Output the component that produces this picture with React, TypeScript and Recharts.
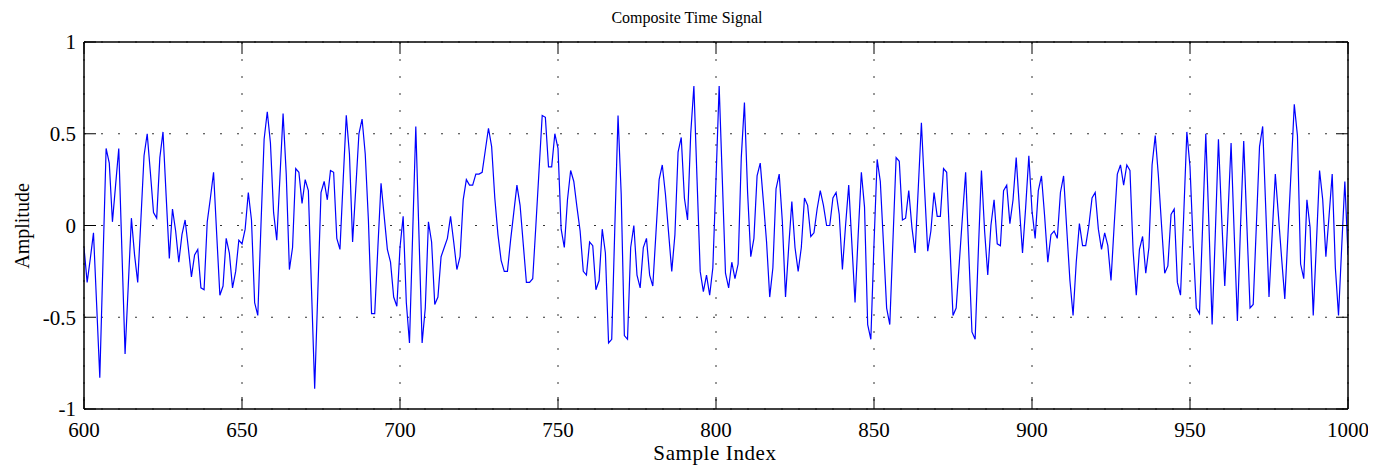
import React from 'react';
import { LineChart, Line, XAxis, YAxis, CartesianGrid } from 'recharts';

const START_INDEX = 600;

// Amplitude, one value per sample index 600..1000
const amplitude: number[] = [
  -0.12, -0.31, -0.18, -0.04, -0.43, -0.83, -0.2, 0.42, 0.34, 0.02, // 600
  0.22, 0.42, -0.14, -0.7, -0.33, 0.04, -0.16, -0.31, 0.03, 0.38, // 610
  0.5, 0.29, 0.07, 0.04, 0.37, 0.51, 0.16, -0.18, 0.09, -0.03, // 620
  -0.2, -0.05, 0.03, -0.12, -0.28, -0.16, -0.13, -0.34, -0.35, 0.02, // 630
  0.15, 0.29, -0.05, -0.38, -0.33, -0.07, -0.15, -0.34, -0.25, -0.08, // 640
  -0.1, -0.02, 0.18, 0.03, -0.42, -0.49, 0.0, 0.47, 0.62, 0.45, // 650
  0.07, -0.08, 0.26, 0.61, 0.28, -0.24, -0.12, 0.31, 0.29, 0.12, // 660
  0.25, 0.19, -0.35, -0.89, -0.36, 0.18, 0.24, 0.14, 0.3, 0.29, // 670
  -0.07, -0.13, 0.24, 0.6, 0.39, -0.09, 0.2, 0.5, 0.58, 0.39, // 680
  0.03, -0.48, -0.48, -0.12, 0.23, 0.05, -0.13, -0.2, -0.39, -0.44, // 690
  -0.12, 0.05, -0.42, -0.64, -0.05, 0.54, -0.05, -0.64, -0.45, 0.02, // 700
  -0.09, -0.43, -0.39, -0.17, -0.12, -0.07, 0.05, -0.09, -0.24, -0.17, // 710
  0.14, 0.25, 0.22, 0.22, 0.28, 0.28, 0.29, 0.41, 0.53, 0.43, // 720
  0.15, -0.05, -0.19, -0.25, -0.25, -0.08, 0.07, 0.22, 0.11, -0.1, // 730
  -0.31, -0.31, -0.29, 0.0, 0.3, 0.6, 0.59, 0.32, 0.32, 0.5, // 740
  0.42, -0.02, -0.12, 0.14, 0.3, 0.24, 0.1, -0.03, -0.25, -0.27, // 750
  -0.09, -0.11, -0.35, -0.3, -0.02, -0.15, -0.64, -0.62, 0.0, 0.6, // 760
  0.17, -0.6, -0.62, -0.12, 0.0, -0.27, -0.34, -0.12, -0.07, -0.27, // 770
  -0.33, -0.04, 0.25, 0.33, 0.17, -0.04, -0.25, -0.05, 0.4, 0.48, // 780
  0.15, 0.03, 0.5, 0.76, 0.25, -0.25, -0.36, -0.27, -0.38, -0.23, // 790
  0.25, 0.76, 0.25, -0.26, -0.34, -0.2, -0.29, -0.21, 0.37, 0.67, // 800
  0.18, -0.17, -0.07, 0.27, 0.34, 0.13, -0.09, -0.39, -0.23, 0.2, // 810
  0.28, 0.02, -0.39, -0.12, 0.13, -0.12, -0.25, -0.12, 0.15, 0.11, // 820
  -0.06, -0.04, 0.09, 0.19, 0.11, 0.0, 0.0, 0.15, 0.18, 0.06, // 830
  -0.24, 0.0, 0.22, -0.1, -0.42, -0.05, 0.29, 0.1, -0.54, -0.62, // 840
  -0.1, 0.36, 0.24, -0.1, -0.45, -0.54, -0.08, 0.37, 0.35, 0.03, // 850
  0.04, 0.19, -0.01, -0.15, 0.2, 0.56, 0.2, -0.14, -0.03, 0.18, // 860
  0.05, 0.05, 0.31, 0.29, -0.1, -0.49, -0.45, -0.2, 0.05, 0.29, // 870
  -0.15, -0.58, -0.62, -0.15, 0.3, -0.03, -0.27, 0.0, 0.14, -0.1, // 880
  -0.11, 0.19, 0.22, 0.01, 0.14, 0.37, 0.1, -0.15, 0.1, 0.38, // 890
  0.08, -0.07, 0.19, 0.27, 0.05, -0.2, -0.05, -0.03, -0.07, 0.18, // 900
  0.27, -0.02, -0.3, -0.49, -0.2, 0.01, -0.11, -0.11, 0.0, 0.15, // 910
  0.18, -0.02, -0.13, -0.04, -0.11, -0.3, 0.0, 0.28, 0.33, 0.22, // 920
  0.33, 0.3, -0.14, -0.38, -0.13, -0.06, -0.26, -0.12, 0.33, 0.49, // 930
  0.27, 0.0, -0.26, -0.22, 0.06, 0.09, -0.31, -0.38, 0.05, 0.51, // 940
  0.32, -0.1, -0.45, -0.48, 0.0, 0.5, 0.0, -0.54, -0.05, 0.47, // 950
  0.05, -0.33, 0.05, 0.45, -0.05, -0.52, 0.0, 0.46, 0.0, -0.45, // 960
  -0.43, 0.0, 0.43, 0.54, 0.08, -0.39, -0.05, 0.28, 0.05, -0.18, // 970
  -0.4, -0.05, 0.3, 0.66, 0.49, -0.21, -0.29, 0.14, -0.01, -0.49, // 980
  -0.1, 0.3, 0.14, -0.17, 0.05, 0.28, -0.23, -0.49, -0.12, 0.24, // 990
  -0.16, // 1000
];

const xTicks = [600, 650, 700, 750, 800, 850, 900, 950, 1000];
const yTicks = [-1, -0.5, 0, 0.5, 1];
const xDomain = [600, 1000];
const yDomain = [-1, 1];

const titleText = 'Composite Time Signal';
const xLabelText = 'Sample Index';
const yLabelText = 'Amplitude';

const data = amplitude.map((v, i) => ({ index: START_INDEX + i, amplitude: v }));

const FONT = '"Liberation Serif", "Times New Roman", Times, serif';

const NoTick = () => <g />;

export default function App() {
  const W = 1360;
  const H = 461;
  return (
    <div style={{ width: W, height: H }}>
      <LineChart
        width={W}
        height={H}
        data={data}
        margin={{ top: 24, right: 10, bottom: 20, left: 16 }}
      >
        <CartesianGrid stroke="#333" strokeWidth={1} strokeDasharray="2 15" />
        <Line
          type="linear"
          dataKey="amplitude"
          stroke="#0000ff"
          strokeWidth={1.2}
          dot={false}
          activeDot={false}
          isAnimationActive={false}
        />
        <XAxis
          type="number"
          dataKey="index"
          domain={xDomain}
          ticks={xTicks}
          interval={0}
          allowDataOverflow
          height={40}
          tickSize={-12}
          tickMargin={25}
          axisLine={{ stroke: '#000', strokeWidth: 1.5 }}
          tickLine={{ stroke: '#000', strokeWidth: 1 }}
          tick={{ fill: '#000', fontSize: 21, fontFamily: FONT }}
        />
        <XAxis
          xAxisId="top"
          orientation="top"
          type="number"
          dataKey="index"
          domain={xDomain}
          ticks={xTicks}
          interval={0}
          allowDataOverflow
          height={10}
          tickSize={-12}
          axisLine={{ stroke: '#000', strokeWidth: 1.5 }}
          tickLine={{ stroke: '#000', strokeWidth: 1 }}
          tick={NoTick}
        />
        <YAxis
          type="number"
          domain={yDomain}
          ticks={yTicks}
          interval={0}
          allowDataOverflow
          width={60}
          tickSize={-12}
          tickMargin={20}
          axisLine={{ stroke: '#000', strokeWidth: 1.5 }}
          tickLine={{ stroke: '#000', strokeWidth: 1 }}
          tick={{ fill: '#000', fontSize: 21, fontFamily: FONT }}
        />
        <YAxis
          yAxisId="right"
          orientation="right"
          type="number"
          domain={yDomain}
          ticks={yTicks}
          interval={0}
          allowDataOverflow
          width={10}
          tickSize={-12}
          axisLine={{ stroke: '#000', strokeWidth: 1.5 }}
          tickLine={{ stroke: '#000', strokeWidth: 1 }}
          tick={NoTick}
        />
        <text
          x={679}
          y={15}
          textAnchor="middle"
          fontFamily={FONT}
          fontSize={16}
          fill="#000"
        >
          {titleText}
        </text>
        <text
          x={707}
          y={452}
          textAnchor="middle"
          fontFamily={FONT}
          fontSize={21}
          letterSpacing={0.6}
          fill="#000"
        >
          {xLabelText}
        </text>
        <text
          x={0}
          y={0}
          transform="translate(21 218) rotate(-90)"
          textAnchor="middle"
          fontFamily={FONT}
          fontSize={20}
          fill="#000"
        >
          {yLabelText}
        </text>
      </LineChart>
    </div>
  );
}
